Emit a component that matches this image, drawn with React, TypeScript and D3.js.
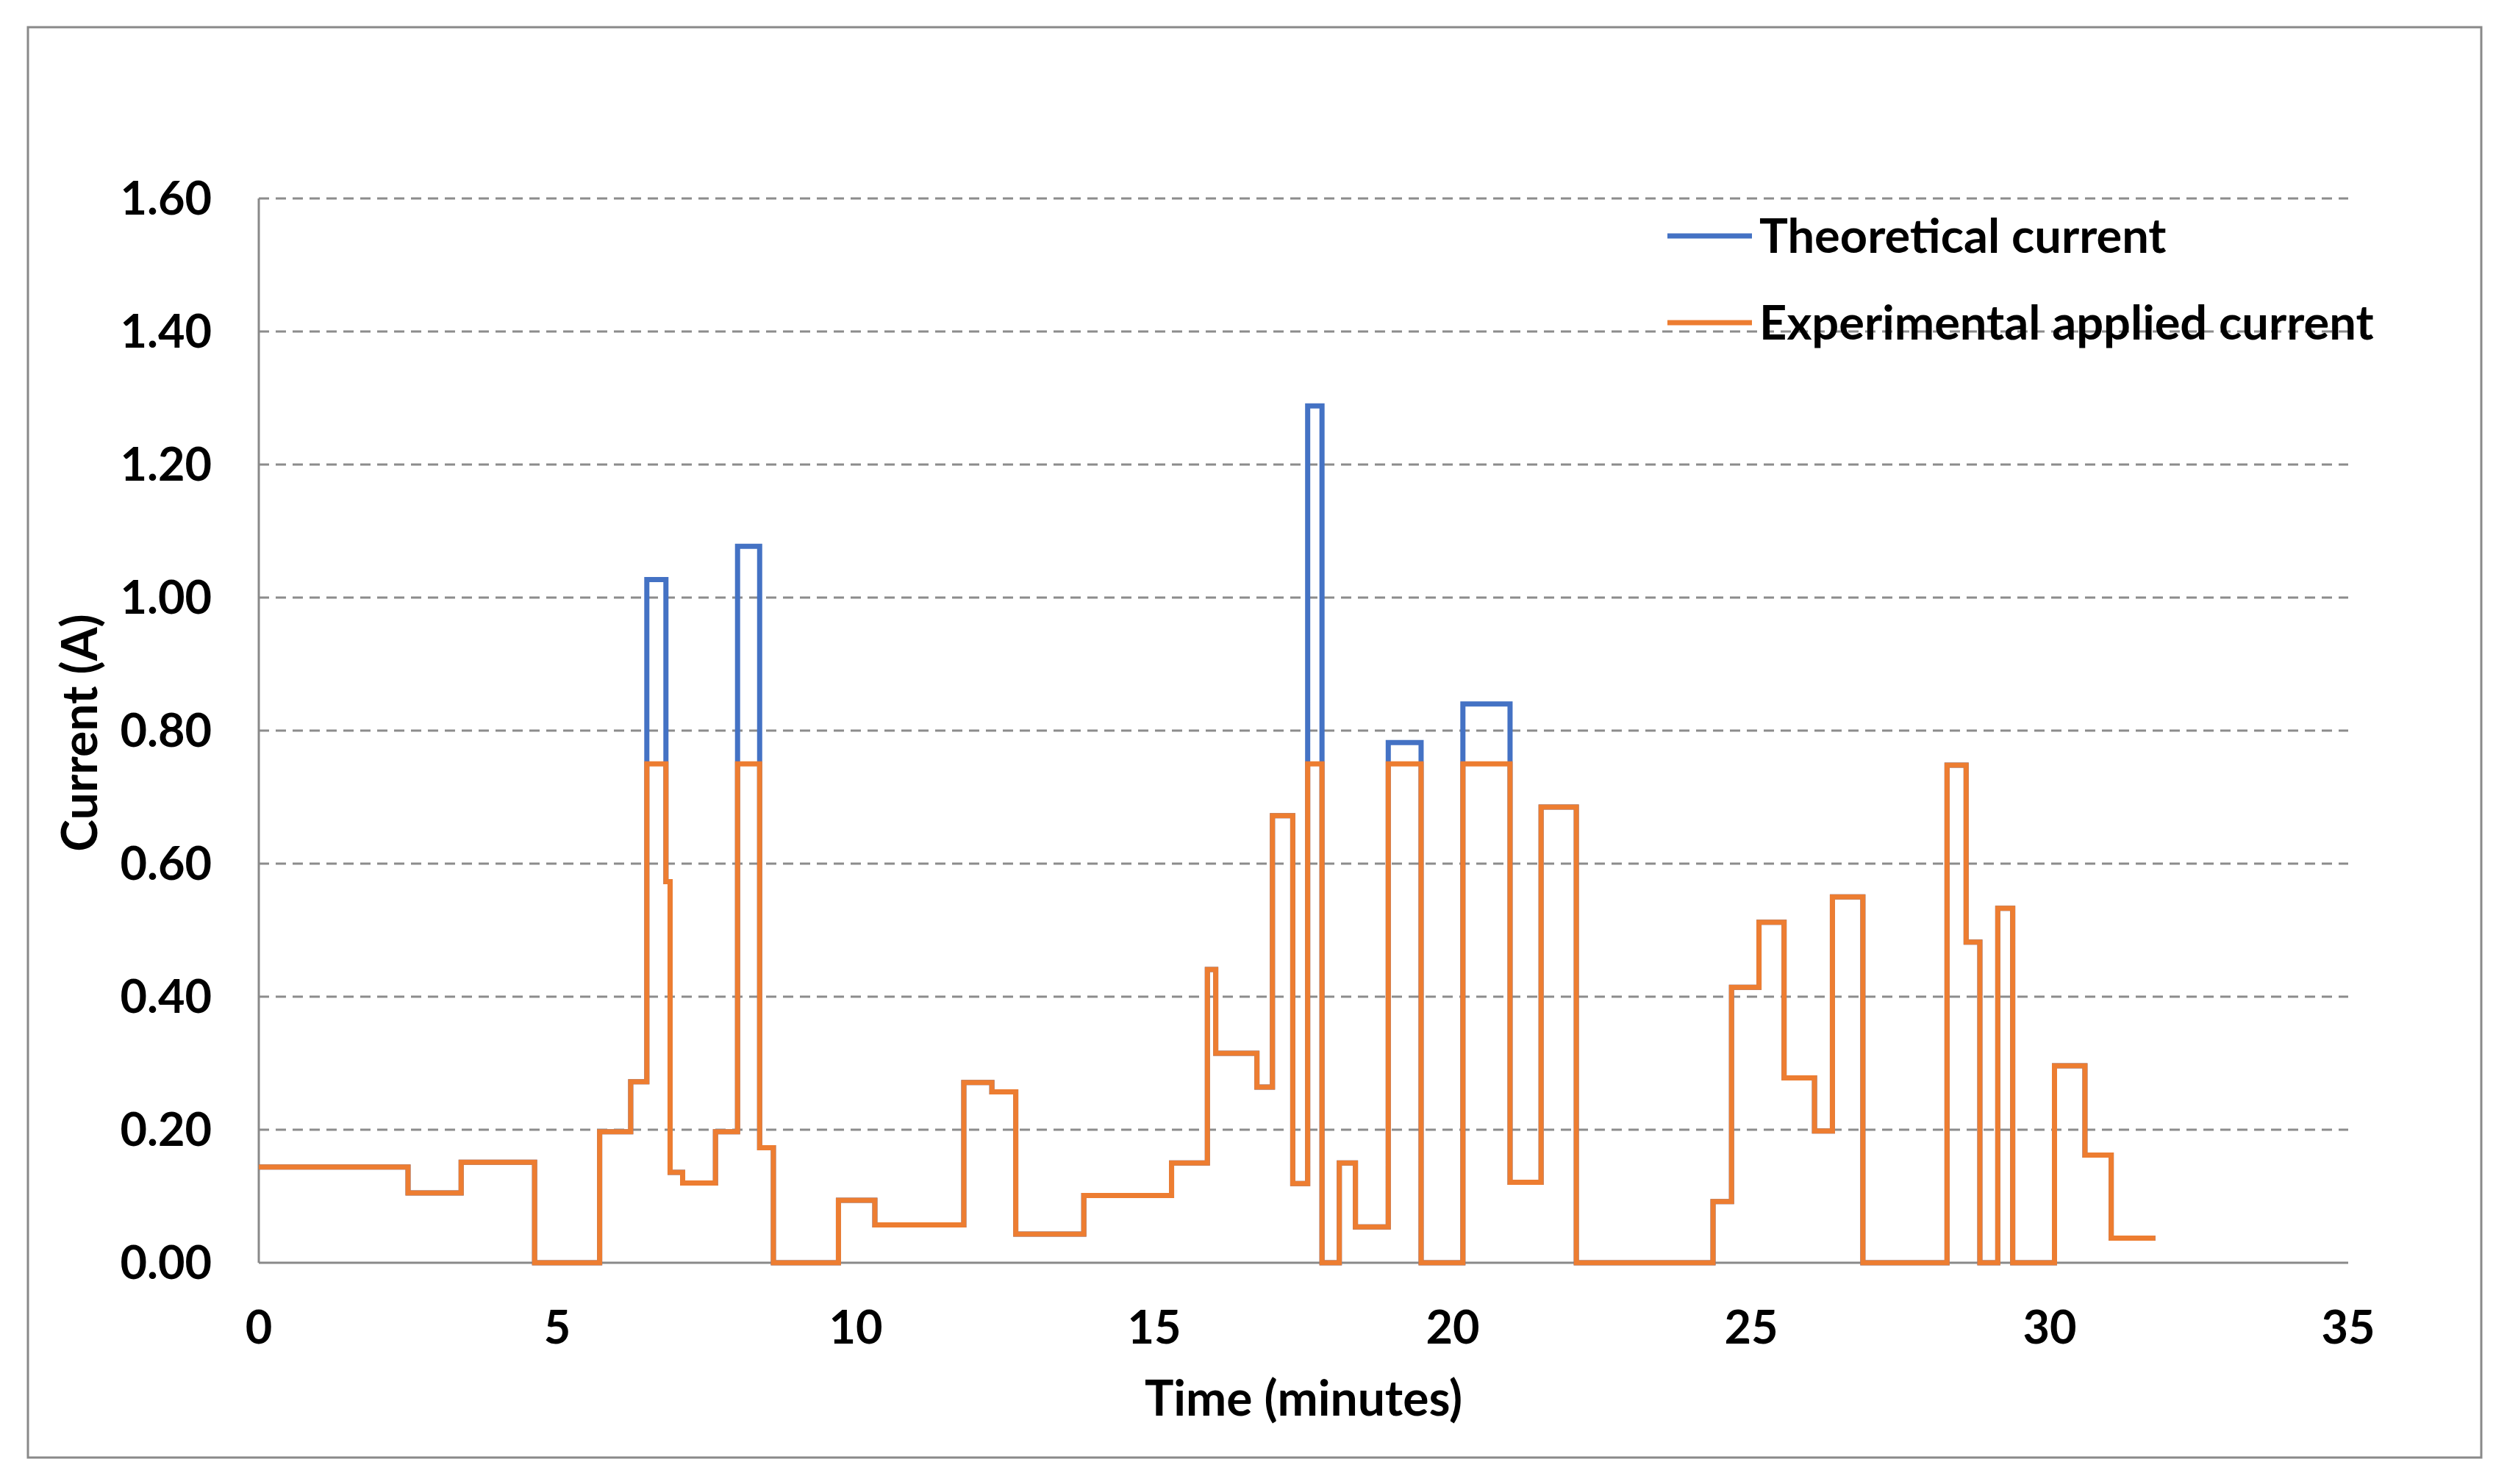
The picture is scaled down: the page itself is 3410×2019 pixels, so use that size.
import React from "react";
import * as d3 from "d3";

// step start times (minutes); the last entry closes the final step
const stepTimes = [
  0, 2.5, 3.39, 4.62, 5.71, 6.23, 6.5, 6.82, 6.89, 7.1, 7.65, 8.02, 8.39, 8.62,
  9.71, 10.32, 11.81, 12.28, 12.68, 13.82, 15.29, 15.89, 16.03, 16.72, 16.98,
  17.32, 17.57, 17.81, 18.1, 18.37, 18.92, 19.47, 20.17, 20.96, 21.48, 22.07,
  24.36, 24.67, 25.13, 25.55, 26.06, 26.36, 26.87, 28.28, 28.6, 28.83, 29.13,
  29.38, 30.08, 30.59, 31.03, 31.77,
];

const experimental = [
  0.144, 0.105, 0.151, 0, 0.197, 0.272, 0.75, 0.573, 0.136, 0.12, 0.197, 0.75,
  0.173, 0, 0.094, 0.057, 0.271, 0.257, 0.043, 0.101, 0.15, 0.441, 0.315, 0.264,
  0.672, 0.119, 0.75, 0, 0.15, 0.054, 0.75, 0, 0.75, 0.121, 0.685, 0, 0.092,
  0.414, 0.512, 0.278, 0.198, 0.55, 0, 0.748, 0.482, 0, 0.533, 0, 0.296, 0.162,
  0.037, 0.037,
];

const theoretical = [
  0.144, 0.105, 0.151, 0, 0.197, 0.272, 1.027, 0.573, 0.136, 0.12, 0.197, 1.077,
  0.173, 0, 0.094, 0.057, 0.271, 0.257, 0.043, 0.101, 0.15, 0.441, 0.315, 0.264,
  0.672, 0.119, 1.288, 0, 0.15, 0.054, 0.782, 0, 0.84, 0.121, 0.685, 0, 0.092,
  0.414, 0.512, 0.278, 0.198, 0.55, 0, 0.748, 0.482, 0, 0.533, 0, 0.296, 0.162,
  0.037, 0.037,
];

const xTicks = [0, 5, 10, 15, 20, 25, 30, 35];
const yTicks = [0, 0.2, 0.4, 0.6, 0.8, 1.0, 1.2, 1.4, 1.6];

const seriesNames = ["Theoretical current", "Experimental applied current"];
const seriesColors = ["#4472C4", "#ED7D31"];

const W = 3410;
const H = 2019;
const FONT = "Lato, 'Open Sans', sans-serif";

export default function App() {
  const x = d3.scaleLinear().domain([0, 35]).range([352, 3194]);
  const y = d3.scaleLinear().domain([0, 1.6]).range([1718, 270]);

  const line = d3
    .line<[number, number]>()
    .x((d) => x(d[0]))
    .y((d) => y(d[1]))
    .curve(d3.curveStepAfter);

  const theoPts = stepTimes.map((t, i) => [t, theoretical[i]] as [number, number]);
  const expPts = stepTimes.map((t, i) => [t, experimental[i]] as [number, number]);
  const fmt = d3.format(".2f");

  return (
    <svg
      width={W}
      height={H}
      style={{ position: "absolute", left: 0, top: 0, background: "#fff" }}
    >
      <rect x={0} y={0} width={W} height={H} fill="#fff" />
      <rect x={38} y={37} width={3337} height={1946} fill="#fff" stroke="#898989" strokeWidth={3} />

      {/* grid */}
      {yTicks.filter((t) => t > 0).map((t) => (
        <line
          key={t}
          x1={x(0)}
          x2={x(35)}
          y1={y(t)}
          y2={y(t)}
          stroke="#8c8c8c"
          strokeWidth={3}
          strokeDasharray="14,9"
        />
      ))}

      {/* axes */}
      <line x1={x(0)} x2={x(0)} y1={y(0)} y2={y(1.6)} stroke="#898989" strokeWidth={3} />
      <line x1={x(0)} x2={x(35)} y1={y(0)} y2={y(0)} stroke="#898989" strokeWidth={3} />

      {/* series */}
      <path d={line(theoPts) ?? ""} fill="none" stroke={seriesColors[0]} strokeWidth={7} />
      <path d={line(expPts) ?? ""} fill="none" stroke={seriesColors[1]} strokeWidth={7} />

      {/* tick labels */}
      <g fontFamily={FONT} fontWeight="bold" fontSize={63} fill="#000">
        {yTicks.map((t) => (
          <text key={t} x={288} y={y(t) + 22} textAnchor="end">
            {fmt(t)}
          </text>
        ))}
        {xTicks.map((t) => (
          <text key={t} x={x(t)} y={1828} textAnchor="middle">
            {t}
          </text>
        ))}
      </g>
      <g fontFamily={FONT} fontWeight="bold" fontSize={66} fill="#000">
        <text x={1773} y={1926} textAnchor="middle">
          Time (minutes)
        </text>
        <text transform="translate(132,997) rotate(-90)" textAnchor="middle">
          Current (A)
        </text>
      </g>

      {/* legend */}
      <g fontFamily={FONT} fontWeight="bold" fontSize={65} fill="#000">
        {seriesNames.map((name, i) => (
          <g key={name} transform={`translate(0,${321 + i * 118})`}>
            <line x1={2268} x2={2383} y1={0} y2={0} stroke={seriesColors[i]} strokeWidth={7} />
            <text x={2393} y={23}>
              {name}
            </text>
          </g>
        ))}
      </g>
    </svg>
  );
}
